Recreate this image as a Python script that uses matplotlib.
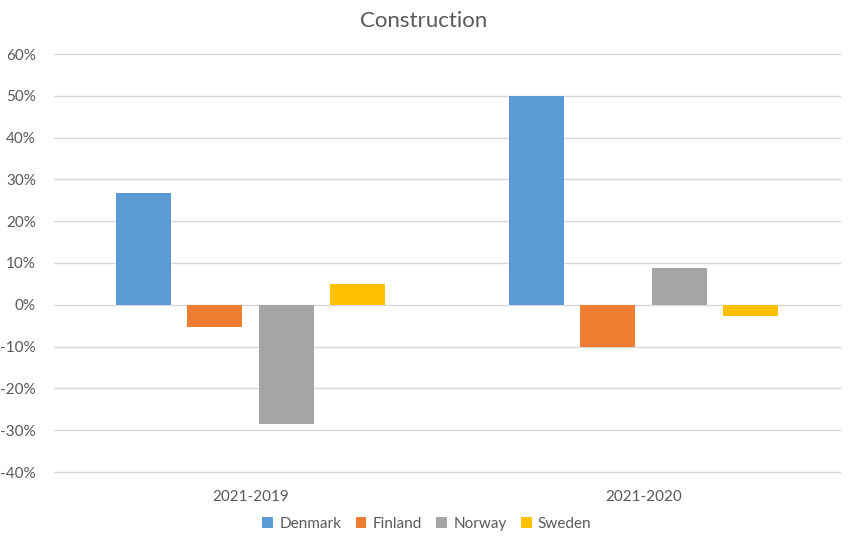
import numpy as np
import matplotlib.pyplot as plt
from matplotlib.ticker import FuncFormatter

# Data
periods = ["2021-2019", "2021-2020"]
countries = ["Denmark", "Finland", "Norway", "Sweden"]
denmark = [26.8, 50.0]
finland = [-5.3, -10.2]
norway = [-28.4, 8.9]
sweden = [4.9, -2.7]
colors = ["#5B9BD5", "#ED7D31", "#A5A5A5", "#FFC000"]

series = [denmark, finland, norway, sweden]
text_color = "#595959"

plt.rcParams["font.family"] = ["Lato", "DejaVu Sans"]

fig = plt.figure(figsize=(8.48, 5.44), dpi=100)
ax = fig.add_axes([54 / 848, 1 - 472 / 544, (840 - 54) / 848, (472 - 54) / 544])

x = np.arange(len(periods))
step = 0.181
width = 0.14
for i, (name, vals) in enumerate(zip(countries, series)):
    ax.bar(x + (i - 1.5) * step, vals, width, color=colors[i], label=name, zorder=3)

ax.set_xlim(-0.5, 1.5)
ax.set_ylim(-40, 60)
ax.set_yticks(np.arange(-40, 61, 10))
ax.yaxis.set_major_formatter(FuncFormatter(lambda v, p: f"{v:.0f}%"))
ax.grid(axis="y", color="#D9D9D9", linewidth=1, zorder=0)
for gl in ax.get_ygridlines():
    gl.set_clip_on(False)
for s in ax.spines.values():
    s.set_visible(False)
ax.tick_params(axis="both", length=0, colors=text_color, labelsize=11)
ax.tick_params(axis="y", pad=13)
ax.set_xticks(x)
ax.set_xticklabels(periods)
ax.tick_params(axis="x", pad=13)

fig.text(0.5, 1 - 21 / 544, "Construction", ha="center", va="center",
         fontsize=16, color=text_color)

leg = fig.legend(loc="center", bbox_to_anchor=(427 / 848, 1 - 524 / 544), ncol=4,
                 frameon=False, fontsize=11, handlelength=0.7, handleheight=0.7,
                 handletextpad=0.4, columnspacing=0.95)
for t in leg.get_texts():
    t.set_color(text_color)

fig.savefig("out.png", dpi=100)
